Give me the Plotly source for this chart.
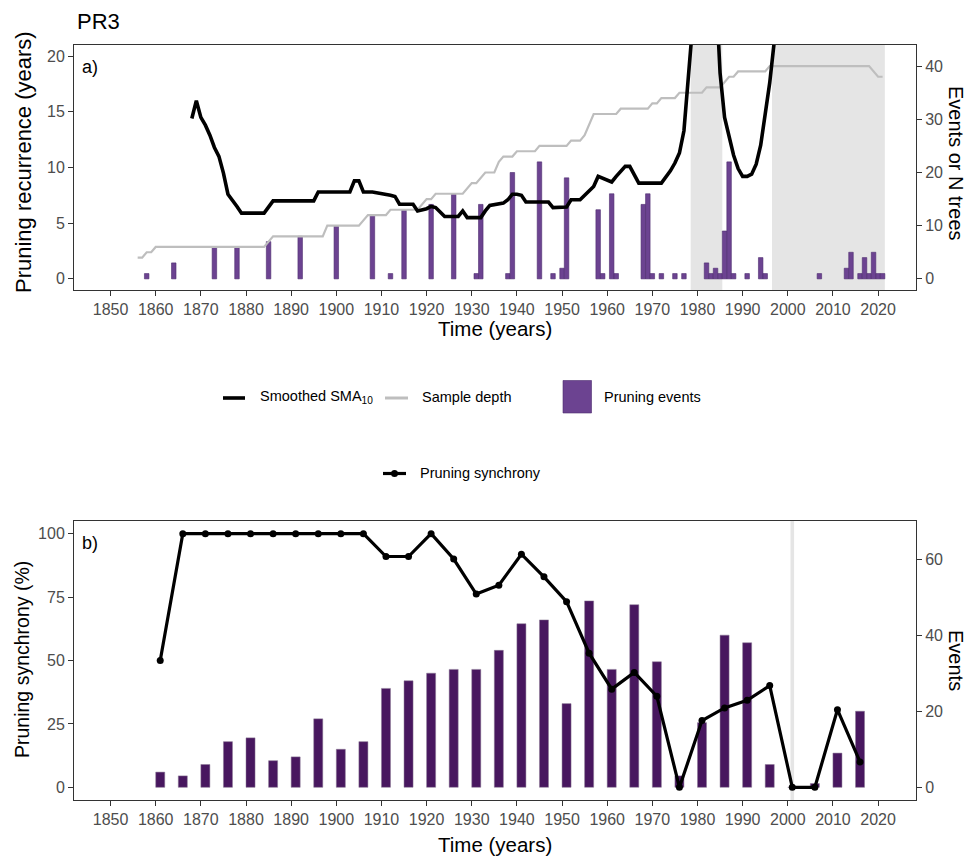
import plotly.graph_objects as go

# ---------------- data ----------------
# Panel a) pruning events per year (right axis)
event_years = [1858, 1864, 1873, 1878, 1885, 1892, 1900, 1908, 1912, 1915, 1921, 1926,
               1931, 1932, 1938, 1939, 1945, 1948, 1950, 1951, 1958, 1959, 1961, 1962,
               1968, 1969, 1970, 1972, 1975, 1977, 1982, 1983, 1984, 1985, 1986, 1987,
               1988, 1991, 1994, 1995, 2007, 2013, 2014, 2016, 2017, 2018, 2019, 2020, 2021]
event_counts = [1, 3, 6, 6, 7, 8, 10, 12, 1, 13, 14, 16,
                1, 14, 1, 20, 22, 1, 2, 19, 13, 1, 16, 1,
                14, 16, 1, 1, 1, 1, 3, 1, 2, 1, 9, 22,
                1, 1, 4, 1, 1, 2, 5, 1, 4, 1, 5, 1, 1]

# Sample depth (number of trees, right axis)
depth_years = [1856, 1857, 1858, 1859, 1860, 1884, 1885, 1886, 1897, 1898, 1905, 1906, 1907,
               1911, 1912, 1918, 1919, 1920, 1921, 1922, 1928, 1929, 1930, 1931, 1932, 1933,
               1935, 1936, 1937, 1939, 1940, 1944, 1945, 1951, 1952, 1954, 1955, 1956, 1957,
               1962, 1963, 1969, 1970, 1971, 1972, 1975, 1976, 1981, 1982, 1985, 1986, 1987,
               1988, 1989, 1995, 1996, 2018, 2019, 2020, 2021]
depth_trees = [4, 4, 5, 5, 6, 6, 7, 8, 8, 10, 10, 11, 12,
               12, 13, 13, 14, 15, 15, 16, 16, 17, 18, 18, 19, 20,
               20, 22, 23, 23, 24, 24, 25, 25, 26, 26, 27, 29, 31,
               31, 32, 32, 33, 33, 34, 34, 35, 35, 36, 36, 37, 38,
               38, 39, 39, 40, 40, 39, 38, 38]

# Smoothed SMA10 of pruning recurrence (left axis, years)
sma_years = [1868, 1869, 1870, 1871, 1872, 1873, 1874, 1875, 1876, 1877, 1878, 1879,
             1884, 1886, 1895, 1896, 1903, 1904, 1905, 1906, 1908, 1912, 1913, 1914,
             1917, 1918, 1919, 1920, 1921, 1922, 1923, 1924, 1927, 1928, 1929, 1932,
             1933, 1934, 1937, 1938, 1939, 1940, 1941, 1942, 1947, 1948, 1951, 1952,
             1954, 1955, 1956, 1957, 1958, 1961, 1962, 1963, 1964, 1965, 1966, 1967,
             1972, 1973, 1974, 1975, 1976, 1977, 1978, 1979, 1980, 1981, 1982, 1983,
             1984, 1985, 1986, 1987, 1988, 1989, 1990, 1991, 1992, 1993, 1994, 1995,
             1996, 1997, 1998]
sma_values = [14.4, 16.0, 14.5, 13.8, 12.9, 11.8, 11.0, 9.5, 7.6, 7.1, 6.5, 5.9,
              5.9, 7.0, 7.0, 7.8, 7.8, 8.8, 8.8, 7.8, 7.8, 7.5, 7.4, 6.7,
              6.7, 6.1, 6.2, 6.3, 6.5, 6.4, 6.0, 5.6, 5.6, 6.1, 5.5, 5.5,
              6.1, 6.6, 6.8, 7.1, 7.6, 7.6, 7.5, 6.9, 6.9, 6.4, 6.45, 7.1,
              7.1, 7.5, 7.9, 8.3, 9.2, 8.7, 9.2, 9.7, 10.1, 10.1, 9.3, 8.6,
              8.6, 9.1, 9.7, 10.4, 11.3, 13.3, 18.0, 21.7, 30.0, 36.0, 38.0, 35.0,
              27.0, 18.5, 14.5, 12.7, 11.1, 9.9, 9.2, 9.2, 9.4, 10.3, 12.0, 14.8,
              17.6, 21.3, 27.0]

shaded_top = [(1978.5, 1985.5), (1996.5, 2021.5)]

# Panel b) pruning synchrony in 5-year bins
sync_years = [1861, 1866, 1871, 1876, 1881, 1886, 1891, 1896, 1901, 1906,
              1911, 1916, 1921, 1926, 1931, 1936, 1941, 1946, 1951, 1956,
              1961, 1966, 1971, 1976, 1981, 1986, 1991, 1996, 2001, 2006,
              2011, 2016]
sync_events = [4, 3, 6, 12, 13, 7, 8, 18, 10, 12,
               26, 28, 30, 31, 31, 36, 43, 44, 22, 49,
               31, 48, 33, 3, 17, 40, 38, 6, 0, 1,
               9, 20]
sync_percent = [50, 100, 100, 100, 100, 100, 100, 100, 100, 100,
                91, 91, 100, 90, 76.2, 79.7, 91.9, 83, 73.2, 52.9,
                38.7, 45.3, 35.9, 0, 26.3, 31.3, 34.3, 40.1, 0, 0,
                30.6, 10]

shaded_bottom = [(2000.6, 2001.4)]

x_tick_vals = [1850, 1860, 1870, 1880, 1890, 1900, 1910, 1920, 1930, 1940,
               1950, 1960, 1970, 1980, 1990, 2000, 2010, 2020]
top_left_ticks = [0, 5, 10, 15, 20]
top_right_ticks = [0, 10, 20, 30, 40]
bot_left_ticks = [0, 25, 50, 75, 100]
bot_right_ticks = [0, 20, 40, 60]

# ---------------- layout helpers ----------------
# the page body adds an 8px offset, so the figure is 8px smaller and margins shifted
W, H = 970, 849
ML, MR, MT, MB = 66, 62, 37, 57
PW, PH = W - ML - MR, H - MT - MB
OFF = 8


def pxx(x):
    # x given in window pixels
    return (x - OFF - ML) / PW


def pxy(y):
    # y given in window pixels
    return (H - MB - (y - OFF)) / PH


FONT = "Liberation Sans, Arial, sans-serif"
BAR_TOP = "#6C4391"
BAR_TOP_LINE = "#4E2C6E"
BAR_BOT = "#48175F"
GREY_LINE = "#BEBEBE"
SHADE = "#E5E5E5"
AXC = "#333333"
TICKC = "#4D4D4D"

XR = [1841.9, 2028.4]
K_TOP = 2.094
K_BOT = 2.0 / 3.0

fig = go.Figure()

# panel a
fig.add_trace(go.Bar(x=event_years, y=event_counts, width=1.0, xaxis="x", yaxis="y2",
                     marker=dict(color=BAR_TOP, line=dict(color=BAR_TOP_LINE, width=0.6)),
                     name="Pruning events", showlegend=False))
fig.add_trace(go.Scatter(x=depth_years, y=depth_trees, mode="lines", xaxis="x", yaxis="y2",
                         line=dict(color=GREY_LINE, width=2.2), name="Sample depth",
                         showlegend=False))
fig.add_trace(go.Scatter(x=sma_years, y=sma_values, mode="lines", xaxis="x", yaxis="y",
                         line=dict(color="black", width=3.6), name="Smoothed SMA10",
                         showlegend=False))

# panel b
fig.add_trace(go.Bar(x=sync_years, y=sync_events, width=2.0, xaxis="x2", yaxis="y4",
                     marker=dict(color=BAR_BOT, line=dict(color="#8A7A94", width=0.5)),
                     name="Events", showlegend=False))
fig.add_trace(go.Scatter(x=sync_years, y=sync_percent, mode="lines+markers", xaxis="x2",
                         yaxis="y3", line=dict(color="black", width=3.2),
                         marker=dict(color="black", size=7), name="Pruning synchrony",
                         showlegend=False))

shapes = []
for a, b in shaded_top:
    shapes.append(dict(type="rect", xref="x", yref="y2 domain", x0=a, x1=b, y0=0, y1=1,
                       fillcolor=SHADE, line=dict(width=0), layer="below"))
for a, b in shaded_bottom:
    shapes.append(dict(type="rect", xref="x2", yref="y4 domain", x0=a, x1=b, y0=0, y1=1,
                       fillcolor=SHADE, line=dict(width=0), layer="below"))

# legend keys (drawn manually)
ly1 = pxy(398)
shapes.append(dict(type="line", xref="paper", yref="paper", x0=pxx(223), x1=pxx(245),
                   y0=ly1, y1=ly1, line=dict(color="black", width=3.6)))
shapes.append(dict(type="line", xref="paper", yref="paper", x0=pxx(385), x1=pxx(408),
                   y0=ly1, y1=ly1, line=dict(color=GREY_LINE, width=3)))
shapes.append(dict(type="rect", xref="paper", yref="paper", x0=pxx(563), x1=pxx(591.5),
                   y0=pxy(413), y1=pxy(380.5), fillcolor=BAR_TOP,
                   line=dict(color=BAR_TOP_LINE, width=0.6)))
ly2 = pxy(473.5)
shapes.append(dict(type="line", xref="paper", yref="paper", x0=pxx(383), x1=pxx(406),
                   y0=ly2, y1=ly2, line=dict(color="black", width=3.2)))
shapes.append(dict(type="circle", xref="paper", yref="paper", x0=pxx(391), x1=pxx(398),
                   y0=pxy(477), y1=pxy(470), fillcolor="black", line=dict(width=0)))

tfont = dict(family=FONT, size=16, color=TICKC)


def ann(text, x, y, size, angle=0, xanchor="center", color="black"):
    return dict(text=text, x=pxx(x), y=pxy(y), xref="paper", yref="paper",
                showarrow=False, textangle=angle, xanchor=xanchor, yanchor="middle",
                font=dict(family=FONT, size=size, color=color))


annotations = [
    ann("PR3", 75, 21, 22, xanchor="left"),
    ann("a)", 80, 67, 18, xanchor="left"),
    ann("b)", 80, 543, 18, xanchor="left"),
    ann("Time (years)", 495, 328, 20.5),
    ann("Time (years)", 495, 844, 20.5),
    ann("Pruning recurrence (years)", 23, 162, 22, angle=-90),
    ann("Events or N trees", 956, 163, 20, angle=90),
    ann("Pruning synchrony (%)", 22, 660, 19.5, angle=-90),
    ann("Events", 956, 660, 20, angle=90),
    ann("Smoothed SMA<sub>10</sub>", 258, 397, 14.5, xanchor="left"),
    ann("Sample depth", 420, 397, 14.5, xanchor="left"),
    ann("Pruning events", 602, 397, 14.5, xanchor="left"),
    ann("Pruning synchrony", 418, 473, 14.5, xanchor="left"),
]

axis_common = dict(ticks="outside", ticklen=5, tickwidth=1, tickcolor=AXC,
                   tickfont=tfont, showgrid=False, zeroline=False)

top_dom = [pxy(290), 1.0]
bot_dom = [0.0, pxy(521)]

fig.update_layout(
    width=W, height=H,
    margin=dict(l=ML, r=MR, t=MT, b=MB),
    paper_bgcolor="white", plot_bgcolor="white",
    showlegend=False,
    font=dict(family=FONT),
    barmode="overlay",
    xaxis=dict(domain=[0, 1], anchor="y2", range=XR, tickvals=x_tick_vals,
               showline=True, linecolor=AXC, linewidth=1, mirror=True, **axis_common),
    yaxis2=dict(domain=top_dom, anchor="x", side="right",
                range=[-1 * K_TOP, 21 * K_TOP], tickvals=top_right_ticks,
                showline=True, linecolor=AXC, linewidth=1, mirror=True, **axis_common),
    yaxis=dict(overlaying="y2", anchor="x", side="left", range=[-1, 21],
               tickvals=top_left_ticks, showline=False, **axis_common),
    xaxis2=dict(domain=[0, 1], anchor="y4", range=XR, tickvals=x_tick_vals,
                showline=True, linecolor=AXC, linewidth=1, mirror=True, **axis_common),
    yaxis4=dict(domain=bot_dom, anchor="x2", side="right",
                range=[-5 * K_BOT, 105 * K_BOT], tickvals=bot_right_ticks,
                showline=True, linecolor=AXC, linewidth=1, mirror=True, **axis_common),
    yaxis3=dict(overlaying="y4", anchor="x2", side="left", range=[-5, 105],
                tickvals=bot_left_ticks, showline=False, **axis_common),
    shapes=shapes,
    annotations=annotations,
)

fig.write_html("out.html")
